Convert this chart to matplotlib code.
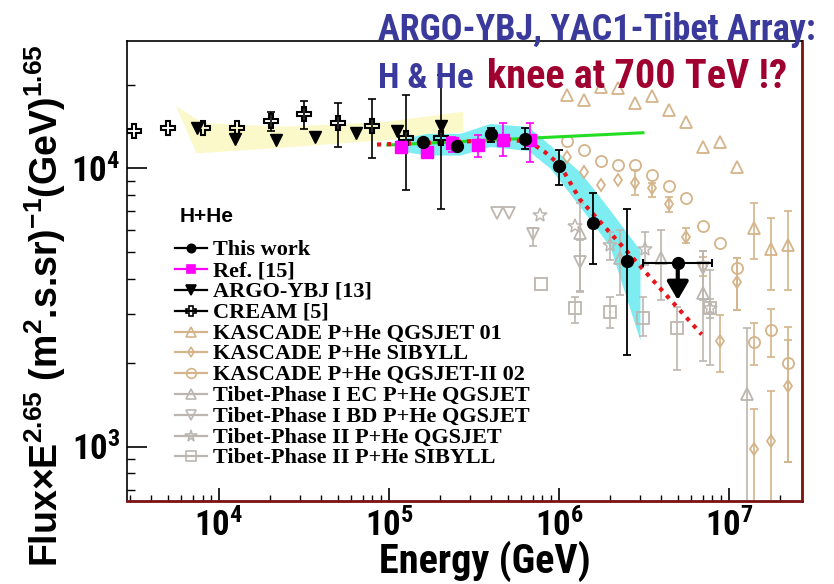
import numpy as np
import matplotlib
matplotlib.use("Agg")
import matplotlib.pyplot as plt

# ---------------- data ----------------
# This work (H+He), energies in GeV, flux x E^2.65
tw_E = [1.58e5, 2.50e5, 3.98e5, 6.30e5, 1.00e6, 1.58e6, 2.50e6]
tw_F = [12460, 12030, 13290, 12750, 10190, 6370, 4640]
tw_lo = [12460, 12030, 12460, 11700, 8710, 4515, 2142]
tw_hi = [12460, 12030, 13930, 13930, 11640, 8170, 7120]
# upper limit of the last bin
ul_E, ul_F, ul_tip = 5.0e6, 4560, 3360
ul_Emin, ul_Emax = 3.13e6, 7.91e6

# Ref. [15]
r_E = [1.177e5, 1.667e5, 2.364e5, 3.326e5, 4.70e5, 6.72e5]
r_F = [11930, 11490, 12300, 12130, 12640, 12640]
r_lo = [11930, 11490, 11470, 10960, 11070, 10560]
r_hi = [11930, 11490, 12990, 13180, 14520, 14590]

# ARGO-YBJ [13]
a_E = [7.4e3, 1.24e4, 2.16e4, 3.67e4, 6.4e4, 1.11e5, 2.02e5]
a_F = [13930, 12730, 12640, 12930, 13430, 13650, 14160]

# CREAM [5]
c_E = [3180, 5040, 8020, 12700, 20140, 31600, 50350, 80000, 126800, 201800]
c_F = [13650, 13930, 13930, 14000, 14830, 15680, 14520, 14200, 12820, 12910]
c_lo = [13650, 13930, 13930, 14000, 13650, 13810, 11900, 10920, 8355, 7140]
c_hi = [13650, 13930, 13930, 14000, 15980, 17510, 17130, 17710, 18350, 21640]

# KASCADE P+He (three interaction models share the energy bins)
k_E = [1.11e6, 1.40e6, 1.77e6, 2.22e6, 2.80e6, 3.52e6, 4.44e6,
       5.60e6, 7.05e6, 8.90e6, 1.12e7, 1.41e7, 1.77e7, 2.22e7]
kq_F = [18350, 17560, 19660, 19400, 17130, 18130, 16210,
        14710, 11900, 12430, 10080, 6085, 5112, 5298]
kq_lo = [18350, 17560, 19660, 19400, 17130, 18130, 16210,
         14710, 11900, 12430, 10080, 4707, 3649, 3649]
kq_hi = [18350, 17560, 19660, 19400, 17130, 18130, 16210,
         14710, 11900, 12430, 10080, 7522, 6609, 7038]
ks_F = [10980, 9683, 8730, 9076, 8888, 8494, 7437,
        5684, 4453, 2402, 3909, 983, 1049, 1644]
ks_lo = [10980, 9683, 8730, 9076, 8017, 7905, 6980,
         5373, 4100, 1855, 3093, 600, 600, 880]
ks_hi = [10980, 9683, 8730, 9076, 9860, 8831, 7905,
         6085, 4808, 2967, 4746, 1359, 1585, 2412]
k2_F = [12540, 11640, 10600, 10310, 10280, 9461, 8636,
        7800, 6227, 5373, 4369, 2378, 2620, 1998]
k2_lo = [12540, 11640, 10600, 10310, 10280, 9461, 8636,
         7800, 6227, 5373, 3093, 1961, 2101, 880]
k2_hi = [12540, 11640, 10600, 10310, 10280, 9461, 8636,
         7800, 6227, 5373, 4746, 2783, 3110, 2693]

# Tibet Phase I EC
te_E = [1.33e6, 2.28e6, 3.98e6, 7.06e6, 1.27e7]
te_F = [5875, 4777, 4777, 3552, 1551]
te_lo = [3599, 3501, 3360, 2027, 600]
te_hi = [7484, 6000, 6000, 5041, 2657]
# Tibet Phase I BD
tb_E = [4.30e5, 5.10e5, 7.06e5, 1.33e6, 7.06e6]
tb_F = [6923, 6923, 5803, 4602, 4380]
tb_lo = [6923, 6923, 5254, 3617, 3360]
tb_hi = [6923, 6923, 6085, 5523, 5041]
# Tibet Phase II QGSJET
ts_E = [7.76e5, 1.24e6, 1.995e6, 3.19e6, 7.73e6]
ts_F = [6809, 6227, 5298, 5134, 3149]
ts_lo = [6809, 6227, 4677, 4500, 2900]
ts_hi = [6809, 6227, 5900, 5916, 3400]
# Tibet Phase II SIBYLL
tq_E = [7.80e5, 1.242e6, 1.995e6, 3.13e6, 4.98e6, 7.78e6]
tq_F = [3830, 3157, 3050, 2887, 2664, 3144]
tq_lo = [3830, 2788, 2657, 2494, 1882, 1961]
tq_hi = [3830, 3452, 3452, 3452, 3178, 4308]

# systematic bands
cy_E = [1.084e5, 1.667e5, 2.616e5, 3.929e5, 6.57e5, 8.85e5,
        1.329e6, 1.673e6, 1.995e6, 2.996e6]
cy_hi = [12640, 13360, 13360, 14500, 14140, 12130, 9700, 8150, 7080, 5083]
cy_lo = [11640, 11160, 11160, 11980, 11590, 10025, 7276, 6050, 5224, 2412]
yb_E_up = [5580, 8020, 25000, 96800, 273500]
yb_F_up = [16750, 14550, 14110, 14710, 15980]
yb_E_lo = [7390, 25000, 96800, 273500]
yb_F_lo = [11320, 11900, 12640, 13540]

# fitted curves
g_E = [9.86e4, 3.12e6]
g_F = [12130, 13430]
rd_E = [8.5e4, 2.285e5, 5.15e5, 6.75e5, 8.27e5, 1.014e6, 1.329e6, 2.502e6, 6.91e6]
rd_F = [12180, 12430, 12690, 12430, 11440, 10280, 7730, 5041, 2529]

# ---------------- style ----------------
NARROW = ["Roboto Condensed", "PT Sans Narrow", "Liberation Sans", "DejaVu Sans"]
SANS = ["Liberation Sans", "DejaVu Sans"]
SERIF = ["Liberation Serif", "DejaVu Serif"]
plt.rcParams["font.family"] = NARROW
plt.rcParams["font.weight"] = "bold"
plt.rcParams["mathtext.fontset"] = "custom"
plt.rcParams["mathtext.default"] = "regular"

TAN = "#d4b48a"
GREY = "#bdb6b0"
MAG = "#ff00ff"
BLUE = "#3a3a9c"
DRED = "#a00030"

W, H = 834, 584
fig = plt.figure(figsize=(W / 100, H / 100), dpi=100)
ax = fig.add_axes([127 / W, 1 - 501 / H, (802 - 127) / W, (501 - 41) / H])
ax.set_xscale("log")
ax.set_yscale("log")
ax.set_xlim(2877, 2.69e7)
ax.set_ylim(637, 28700)


def yerr(F, lo, hi):
    F = np.asarray(F, float)
    return np.vstack([F - np.asarray(lo, float), np.asarray(hi, float) - F])


def bars(E, F, lo, hi, color, lw=1.2, cap=3, z=2):
    E = np.asarray(E, float)
    F = np.asarray(F, float)
    lo = np.asarray(lo, float)
    hi = np.asarray(hi, float)
    m = (lo < F) | (hi > F)
    if m.any():
        ax.errorbar(E[m], F[m], yerr=yerr(F[m], lo[m], hi[m]), fmt="none",
                    ecolor=color, elinewidth=lw, capsize=cap, capthick=lw,
                    zorder=z)


# bands
ax.fill(list(yb_E_up) + list(yb_E_lo[::-1]), list(yb_F_up) + list(yb_F_lo[::-1]),
        color="#fbf9c9", lw=0, zorder=1)
ax.fill_between(cy_E, cy_lo, cy_hi, color="#7eedf2", lw=0, zorder=1.5)

# KASCADE
bars(k_E, kq_F, kq_lo, kq_hi, TAN)
bars(k_E, ks_F, ks_lo, ks_hi, TAN)
bars(k_E, k2_F, k2_lo, k2_hi, TAN)
ax.plot(k_E, kq_F, ls="none", marker="^", ms=8.5, mfc="none", mec=TAN, mew=1.3, zorder=2)
ax.plot(k_E, ks_F, ls="none", marker="d", ms=6.3, mfc="none", mec=TAN, mew=1.3, zorder=2)
ax.plot(k_E, k2_F, ls="none", marker="o", ms=8, mfc="none", mec=TAN, mew=1.3, zorder=2)

# Tibet
bars(te_E, te_F, te_lo, te_hi, GREY)
bars(tb_E, tb_F, tb_lo, tb_hi, GREY)
bars(ts_E, ts_F, ts_lo, ts_hi, GREY)
bars(tq_E, tq_F, tq_lo, tq_hi, GREY)
ax.plot(te_E, te_F, ls="none", marker="^", ms=8.5, mfc="none", mec=GREY, mew=1.3, zorder=2)
ax.plot(tb_E, tb_F, ls="none", marker="v", ms=8.5, mfc="none", mec=GREY, mew=1.3, zorder=2)
ax.plot(ts_E, ts_F, ls="none", marker="*", ms=10, mfc="none", mec=GREY, mew=1.1, zorder=2)
ax.plot(tq_E, tq_F, ls="none", marker="s", ms=8, mfc="none", mec=GREY, mew=1.3, zorder=2)

# fit lines
ax.plot(g_E, g_F, color="#22dd22", lw=2.2, zorder=2.5)
ax.plot(rd_E, rd_F, color="#e8141c", lw=3.0, ls=(0, (1, 1.4)),
        dash_capstyle="butt", zorder=3)

# ARGO-YBJ and CREAM
ax.plot(a_E, a_F, ls="none", marker="v", ms=9, color="k", zorder=4)
bars(c_E, c_F, c_lo, c_hi, "k", z=4)
ax.plot(c_E, c_F, ls="none", marker="P", ms=10, mfc="none", mec="k", mew=1.5, zorder=4)

# Ref. [15]
bars(r_E, r_F, r_lo, r_hi, MAG, z=4)
ax.plot(r_E, r_F, ls="none", marker="s", ms=8.5, color=MAG, zorder=4)

# This work
bars(tw_E, tw_F, tw_lo, tw_hi, "k", lw=1.3, z=5)
ax.plot(tw_E, tw_F, ls="none", marker="o", ms=8.5, color="k", zorder=5)
ax.errorbar([ul_E], [ul_F], xerr=[[ul_E - ul_Emin], [ul_Emax - ul_E]], fmt="o",
            ms=8.5, color="k", elinewidth=1.5, capsize=3, capthick=1.5, zorder=5)
ax.annotate("", xy=(ul_E, ul_tip), xytext=(ul_E, ul_F),
            arrowprops=dict(arrowstyle="-|>,head_length=0.55,head_width=0.32",
                            lw=3, color="k", shrinkA=0, shrinkB=0,
                            mutation_scale=20), zorder=5)

# axes frame and ticks
for s in ("left", "top"):
    ax.spines[s].set_color("k")
    ax.spines[s].set_linewidth(1.2)
for s in ("right", "bottom"):
    ax.spines[s].set_color("#7a1212")
    ax.spines[s].set_linewidth(2.0)
ax.yaxis.set_minor_formatter(matplotlib.ticker.NullFormatter())
ax.xaxis.set_minor_formatter(matplotlib.ticker.NullFormatter())
ax.tick_params(axis="x", which="major", direction="in", length=9.4, width=1.2,
               labelsize=25, pad=5, top=False)
ax.tick_params(axis="x", which="minor", direction="in", length=4.3, width=1.0, top=False)
ax.tick_params(axis="y", which="major", direction="in", length=14.4, width=1.2,
               labelsize=25, pad=5, right=False)
ax.tick_params(axis="y", which="minor", direction="in", length=6, width=1.0, right=False)

# axis titles
fig.text(485 / W, 1 - 573 / H, "Energy (GeV)", ha="center", va="baseline",
         fontsize=29, fontweight="bold")
fig.text(45 / W, 1 - 306 / H,
         "Flux×E$^{2.65}$ (m$^{2}$.s.sr)$^{-1}$(GeV)$^{1.65}$",
         rotation=90, ha="center", va="center", fontsize=27,
         fontweight="bold", family=SANS)

# headline
fig.text(378 / W, 1 - 40 / H, "ARGO-YBJ, YAC1-Tibet Array:", ha="left",
         va="baseline", fontsize=26, color=BLUE, zorder=10)
fig.text(378 / W, 1 - 88 / H, "H & He", ha="left", va="baseline",
         fontsize=25, color=BLUE, zorder=10)
fig.text(487 / W, 1 - 88 / H, "knee at 700 TeV !?", ha="left", va="baseline",
         fontsize=29, color=DRED, zorder=10)

# legend
fig.text(180 / W, 1 - 222 / H, "H+He", ha="left", va="baseline", fontsize=15,
         fontweight="bold", family=SANS)
entries = [
    ("This work", "o", "k", "k", 6),
    ("Ref. [15]", "s", MAG, MAG, 6),
    ("ARGO-YBJ [13]", "v", "k", "k", 6.5),
    ("CREAM [5]", "P", "k", "none", 7.5),
    ("KASCADE P+He QGSJET 01", "^", TAN, "none", 7),
    ("KASCADE P+He SIBYLL", "d", TAN, "none", 5.5),
    ("KASCADE P+He QGSJET-II 02", "o", TAN, "none", 7),
    ("Tibet-Phase I EC P+He QGSJET", "^", GREY, "none", 7),
    ("Tibet-Phase I BD P+He QGSJET", "v", GREY, "none", 7),
    ("Tibet-Phase II P+He QGSJET", "*", GREY, "none", 8.5),
    ("Tibet-Phase II P+He SIBYLL", "s", GREY, "none", 6.5),
]
for i, (lab, mk, col, fc, ms) in enumerate(entries):
    yc = 248.3 + 20.8 * i
    yf = 1 - yc / H
    ax.plot([175 / W, 207 / W], [yf, yf], color=col, lw=1.6,
            transform=fig.transFigure, clip_on=False, zorder=6)
    ax.plot([191 / W], [yf], marker=mk, ms=ms, mec=col, mfc=fc, mew=1.2,
            transform=fig.transFigure, clip_on=False, zorder=6)
    fig.text(213 / W, 1 - (yc + 7) / H, lab, ha="left", va="baseline",
             fontsize=16, fontweight="bold", family=SERIF)

fig.savefig("out.png", dpi=100)
